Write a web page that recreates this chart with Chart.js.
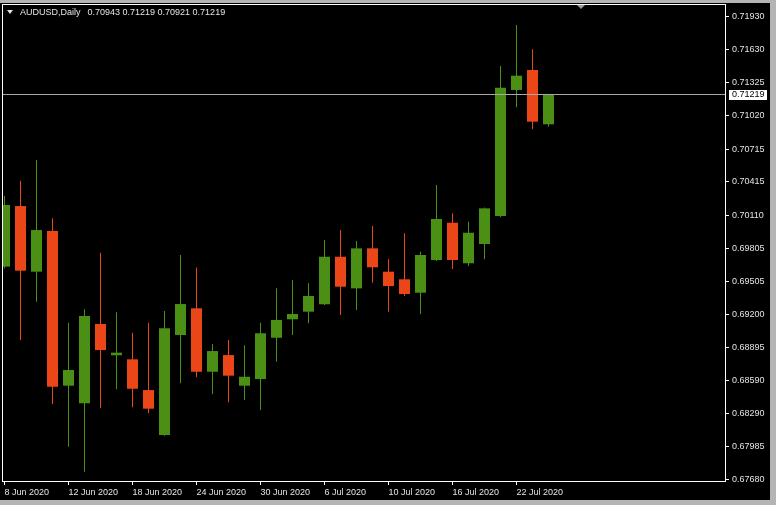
<!DOCTYPE html>
<html>
<head>
<meta charset="utf-8">
<title>AUDUSD Daily</title>
<script src="https://cdn.jsdelivr.net/npm/chart.js@4.4.1/dist/chart.umd.min.js"></script>
<style>
  html, body { margin: 0; padding: 0; background: #b4b4b4; }
  canvas { display: block; }
</style>
</head>
<body>
<canvas id="chart" width="776" height="505"></canvas>
<script>
// AUDUSD daily candles, 8 Jun - 24 Jul 2020
const symbol = 'AUDUSD,Daily';

const dates = [
    '8 Jun 2020', '9 Jun 2020', '10 Jun 2020', '11 Jun 2020', '12 Jun 2020',
    '15 Jun 2020', '16 Jun 2020', '17 Jun 2020', '18 Jun 2020', '19 Jun 2020',
    '22 Jun 2020', '23 Jun 2020', '24 Jun 2020', '25 Jun 2020', '26 Jun 2020',
    '29 Jun 2020', '30 Jun 2020', '1 Jul 2020', '2 Jul 2020', '3 Jul 2020',
    '6 Jul 2020', '7 Jul 2020', '8 Jul 2020', '9 Jul 2020', '10 Jul 2020',
    '13 Jul 2020', '14 Jul 2020', '15 Jul 2020', '16 Jul 2020', '17 Jul 2020',
    '20 Jul 2020', '21 Jul 2020', '22 Jul 2020', '23 Jul 2020', '24 Jul 2020'
];

const opens = [
    0.69637, 0.70193, 0.69591, 0.69964, 0.68545,
    0.68383, 0.69111, 0.68824, 0.68787, 0.68505,
    0.68093, 0.69010, 0.69255, 0.68673, 0.68826,
    0.68545, 0.68606, 0.68985, 0.69154, 0.69224,
    0.69292, 0.69728, 0.69438, 0.69805, 0.69591,
    0.69521, 0.69398, 0.69698, 0.70040, 0.69668,
    0.69845, 0.70102, 0.71258, 0.71441, 0.70943
];
const highs = [
    0.70285, 0.70426, 0.70615, 0.70081, 0.69123,
    0.69246, 0.69765, 0.69218, 0.69031, 0.69123,
    0.69230, 0.69744, 0.69629, 0.68927, 0.68964,
    0.68915, 0.69123, 0.69438, 0.69515, 0.69484,
    0.69882, 0.69973, 0.69872, 0.70010, 0.69704,
    0.69943, 0.69774, 0.70386, 0.70126, 0.70049,
    0.70180, 0.71478, 0.71854, 0.71631, 0.71219
];
const lows = [
    0.69620, 0.68964, 0.69315, 0.68377, 0.67985,
    0.67756, 0.68338, 0.68512, 0.68347, 0.68292,
    0.68085, 0.68567, 0.68622, 0.68469, 0.68393,
    0.68414, 0.68322, 0.68765, 0.69010, 0.69117,
    0.69285, 0.69193, 0.69239, 0.69490, 0.69224,
    0.69368, 0.69203, 0.69690, 0.69615, 0.69643,
    0.69704, 0.70090, 0.71099, 0.70897, 0.70921
];
const closes = [
    0.70203, 0.69600, 0.69973, 0.68536, 0.68689,
    0.69184, 0.68872, 0.68848, 0.68517, 0.68334,
    0.69071, 0.69294, 0.68673, 0.68863, 0.68637,
    0.68627, 0.69026, 0.69148, 0.69203, 0.69368,
    0.69728, 0.69453, 0.69805, 0.69631, 0.69459,
    0.69386, 0.69744, 0.70074, 0.69698, 0.69948,
    0.70172, 0.71279, 0.71389, 0.70967, 0.71219
];

// price scale labels on the right
const yTicks = [
    0.71930, 0.71630, 0.71325, 0.71020, 0.70715, 0.70415, 0.70110, 0.69805,
    0.69505, 0.69200, 0.68895, 0.68590, 0.68290, 0.67985, 0.67680
];
const xTickStep = 4;

const BULL = '#4b8f14';
const BEAR = '#ea4618';
const TEXT = '#e4e4e4';

const candleColors = opens.map((o, i) => closes[i] >= o ? BULL : BEAR);
const bodies = opens.map((o, i) => ({ x: i, y: [o, closes[i]] }));
const wicks = lows.map((l, i) => ({ x: i, y: [l, highs[i]] }));

const fmt = v => v.toFixed(5);

// terminal look: window background, frame, header, bid line, shift marker
const terminalPlugin = {
    id: 'terminal',
    beforeDraw(chart) {
        const ctx = chart.ctx;
        ctx.save();
        ctx.fillStyle = '#b4b4b4';
        ctx.fillRect(0, 0, chart.width, chart.height);
        ctx.fillStyle = '#000000';
        ctx.fillRect(0, 3, 770, 497);
        ctx.restore();
    },
    afterDatasetsDraw(chart) {
        const { ctx, chartArea, scales } = chart;
        const last = closes[closes.length - 1];
        const py = Math.round(scales.y.getPixelForValue(last)) + 0.5;
        ctx.save();
        ctx.strokeStyle = '#a8a8a8';
        ctx.lineWidth = 1;
        ctx.beginPath();
        ctx.moveTo(chartArea.left, py);
        ctx.lineTo(chartArea.right, py);
        ctx.stroke();
        ctx.restore();
    },
    afterDraw(chart) {
        const { ctx, chartArea, scales } = chart;
        ctx.save();
        // frame
        ctx.strokeStyle = '#ffffff';
        ctx.lineWidth = 1;
        ctx.strokeRect(chartArea.left + 0.5, chartArea.top + 0.5,
            chartArea.right - chartArea.left - 1, chartArea.bottom - chartArea.top - 1);

        // header
        const n = closes.length - 1;
        ctx.fillStyle = TEXT;
        ctx.beginPath();
        ctx.moveTo(7, 10);
        ctx.lineTo(13, 10);
        ctx.lineTo(10, 14);
        ctx.closePath();
        ctx.fill();
        ctx.font = '9px "Liberation Sans", Arial, sans-serif';
        ctx.textBaseline = 'middle';
        ctx.textAlign = 'left';
        ctx.fillText(symbol, 20, 12.5);
        const w = ctx.measureText(symbol).width;
        ctx.fillText([opens[n], highs[n], lows[n], closes[n]].map(fmt).join(' '), 20 + w + 7, 12.5);

        // bid label on the price scale
        const py = Math.round(scales.y.getPixelForValue(closes[n]));
        ctx.fillStyle = '#ffffff';
        ctx.fillRect(chartArea.right + 3, py - 4, 38, 10);
        ctx.fillStyle = '#000000';
        ctx.fillText(fmt(closes[n]), chartArea.right + 6, py + 1);

        // chart shift marker
        const sx = Math.round(scales.x.getPixelForValue(dates.length + 1));
        ctx.fillStyle = '#9a9a9a';
        ctx.beginPath();
        ctx.moveTo(sx - 4, chartArea.top + 1);
        ctx.lineTo(sx + 4, chartArea.top + 1);
        ctx.lineTo(sx, chartArea.top + 5);
        ctx.closePath();
        ctx.fill();
        ctx.restore();
    }
};

const ctx = document.getElementById('chart');
new Chart(ctx.getContext('2d'), {
    type: 'bar',
    data: {
        datasets: [{
            label: 'Body',
            data: bodies,
            backgroundColor: candleColors,
            borderWidth: 0,
            grouped: false,
            maxBarThickness: 11,
            inflateAmount: 0
        }, {
            label: 'Wick',
            data: wicks,
            backgroundColor: candleColors,
            borderWidth: 0,
            grouped: false,
            maxBarThickness: 1,
            inflateAmount: 0
        }]
    },
    options: {
        responsive: false,
        devicePixelRatio: 1,
        animation: false,
        layout: { padding: { left: 2, top: 4, right: 0, bottom: 0 } },
        plugins: {
            legend: { display: false },
            tooltip: { enabled: false }
        },
        scales: {
            x: {
                type: 'linear',
                min: -0.15625,
                max: 45.09375,
                offset: false,
                border: { display: false },
                grid: { offset: false, drawOnChartArea: false, drawTicks: true, tickLength: 3, color: '#ffffff' },
                ticks: {
                    color: TEXT,
                    font: { family: '"Liberation Sans", Arial, sans-serif', size: 9 },
                    align: 'start',
                    padding: 2,
                    maxRotation: 0,
                    autoSkip: false,
                    callback: value => dates[value]
                },
                afterBuildTicks: scale => {
                    const t = [];
                    for (let i = 0; i < dates.length; i += xTickStep) t.push({ value: i });
                    scale.ticks = t;
                },
                afterFit: scale => {
                    scale.height = 23;
                    scale.paddingLeft = 0;
                    scale.paddingRight = 0;
                }
            },
            y: {
                type: 'linear',
                position: 'right',
                min: 0.676616,
                max: 0.720465,
                border: { display: false },
                grid: { drawOnChartArea: false, drawTicks: true, tickLength: 3, color: '#ffffff' },
                ticks: {
                    color: TEXT,
                    font: { family: '"Liberation Sans", Arial, sans-serif', size: 9 },
                    padding: 3,
                    callback: value => fmt(value)
                },
                afterBuildTicks: scale => {
                    scale.ticks = yTicks.map(v => ({ value: v }));
                },
                afterFit: scale => {
                    scale.width = 50;
                    scale.paddingTop = 0;
                    scale.paddingBottom = 0;
                }
            }
        }
    },
    plugins: [terminalPlugin]
});
</script>
</body>
</html>
